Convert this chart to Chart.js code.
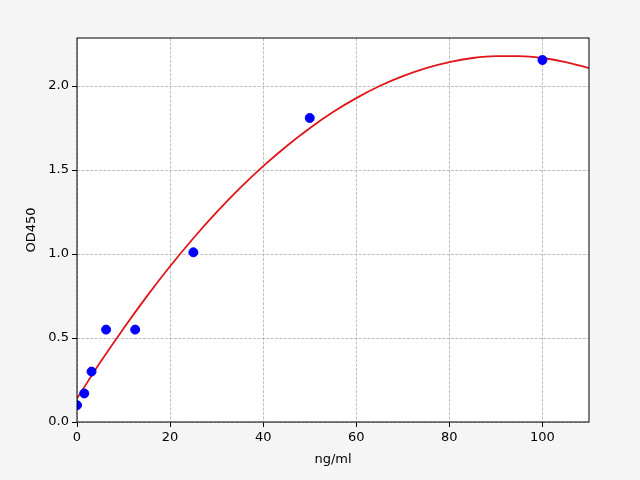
<!DOCTYPE html>
<html>
<head>
<meta charset="utf-8">
<script src="https://cdn.jsdelivr.net/npm/chart.js@4"></script>
<style>
  html, body { margin: 0; padding: 0; background: #f5f5f5; }
  #wrap { width: 640px; height: 480px; }
</style>
</head>
<body>
<div id="wrap"><canvas id="myChart" width="640" height="480"></canvas></div>
<script>
// measured standards
const concX = [0, 1.56, 3.125, 6.25, 12.5, 25, 50, 100];
const odY = [0.10, 0.17, 0.30, 0.55, 0.55, 1.01, 1.81, 2.155];

// fitted curve
const fitX = [0, 5, 10, 15, 20, 25, 30, 35, 40, 45, 50, 55, 60, 65, 70, 75, 80, 85, 90, 95, 100, 105, 110];
const fitY = [0.14, 0.355, 0.557, 0.748, 0.927, 1.094, 1.249, 1.392, 1.523, 1.642, 1.749, 1.845, 1.928, 2.0, 2.059, 2.107, 2.143, 2.167, 2.178, 2.178, 2.167, 2.143, 2.107];

const xTicks = [0, 20, 40, 60, 80, 100];
const yTicks = [0, 0.5, 1.0, 1.5, 2.0];

const font = { family: 'DejaVu Sans', size: 13 };

// matplotlib style frame round the plot
const framePlugin = {
  id: 'frame',
  afterDraw(chart) {
    const a = chart.chartArea;
    const c = chart.ctx;
    c.save();
    c.strokeStyle = '#000';
    c.lineWidth = 1;
    c.strokeRect(a.left, a.top, a.right - a.left, a.bottom - a.top);
    c.restore();
  }
};
const bgPlugin = {
  id: 'bg',
  beforeDraw(chart) {
    const a = chart.chartArea;
    const c = chart.ctx;
    c.save();
    c.fillStyle = '#f5f5f5';
    c.fillRect(0, 0, chart.width, chart.height);
    c.fillStyle = '#ffffff';
    c.fillRect(a.left, a.top, a.right - a.left, a.bottom - a.top);
    c.restore();
  }
};

const ctx = document.getElementById('myChart');

new Chart(ctx, {
  type: 'scatter',
  data: {
    datasets: [{
      data: concX.map((x, i) => ({ x: x, y: odY[i] })),
      backgroundColor: '#0000ff',
      borderColor: '#0000ff',
      pointRadius: 4.5,
      showLine: false
    }, {
      data: fitX.map((x, i) => ({ x: x, y: fitY[i] })),
      borderColor: '#e0161a',
      borderWidth: 1.8,
      pointRadius: 0,
      showLine: true,
      tension: 0.4,
      cubicInterpolationMode: 'monotone'
    }]
  },
  options: {
    responsive: false,
    animation: false,
    devicePixelRatio: 1,
    layout: { padding: { left: 0, right: 51, top: 38, bottom: 0 } },
    plugins: { legend: { display: false }, tooltip: { enabled: false } },
    scales: {
      x: {
        type: 'linear',
        min: 0,
        max: 110,
        afterFit(scale) { scale.height = 58; },
        afterBuildTicks(scale) { scale.ticks = xTicks.map(v => ({ value: v })); },
        grid: { color: '#b0b0b0', lineWidth: 0.8, tickColor: '#000', tickLength: 5, tickBorderDash: [], tickWidth: 1 },
        border: { display: false, dash: [3, 1.4] },
        ticks: { color: '#000', font: font, padding: 3, maxRotation: 0, callback: v => String(v) },
        title: { display: true, text: 'ng/ml', color: '#000', font: font, padding: { top: 2, bottom: 13 } }
      },
      y: {
        type: 'linear',
        min: 0,
        max: 2.286,
        afterFit(scale) { scale.width = 77; },
        afterBuildTicks(scale) { scale.ticks = yTicks.map(v => ({ value: v })); },
        grid: { color: '#b0b0b0', lineWidth: 0.8, tickColor: '#000', tickLength: 5, tickBorderDash: [], tickWidth: 1 },
        border: { display: false, dash: [3, 1.4] },
        ticks: { color: '#000', font: font, padding: 3, callback: v => v.toFixed(1) },
        title: { display: true, text: 'OD450', color: '#000', font: font, padding: { top: 24, bottom: 0 } }
      }
    }
  },
  plugins: [bgPlugin, framePlugin]
});
</script>
</body>
</html>
